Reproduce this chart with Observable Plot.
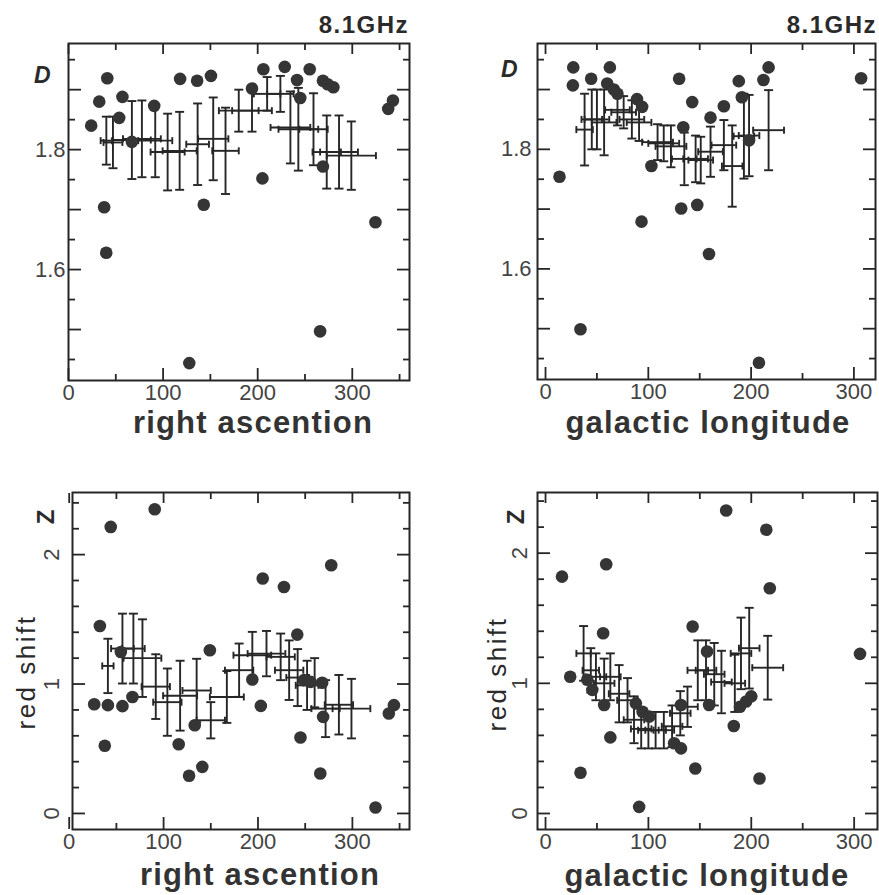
<!DOCTYPE html>
<html><head><meta charset="utf-8">
<script src="https://cdn.jsdelivr.net/npm/d3@7"></script>
<script src="https://cdn.jsdelivr.net/npm/@observablehq/plot@0.6"></script>
<style>
body{margin:0;background:#fff;}
#root{position:relative;width:879px;height:895px;overflow:hidden;font-family:"Liberation Sans",Arial,sans-serif;background:#fff;}
.lbl{position:absolute;white-space:nowrap;color:#2a2a2a;line-height:1;}
</style></head><body><div id="root"></div>
<script>
// ---------- DATA ----------
// Panel 1: D vs right ascension (individual sources)
const raD_ptX = [24, 32.5, 41, 37.7, 39.9, 53.6, 57, 67, 90.6, 118, 136, 150.6, 143, 127.7, 194, 206, 205, 228.6, 241.6, 245, 255, 269, 274, 280, 269, 266, 324.5, 338, 343];
const raD_ptY = [1.84, 1.88, 1.919, 1.704, 1.628, 1.853, 1.888, 1.813, 1.873, 1.918, 1.915, 1.923, 1.708, 1.444, 1.902, 1.934, 1.752, 1.938, 1.916, 1.886, 1.934, 1.915, 1.909, 1.904, 1.772, 1.497, 1.679, 1.868, 1.882];
// Panel 1: binned averages
const raD_binX    = [40, 47, 67, 77.6, 91.7, 104.8, 117.5, 136.5, 153, 166, 180, 194, 210, 224, 234.6, 243, 259, 273, 286, 299];
const raD_binY    = [1.815, 1.812, 1.816, 1.818, 1.815, 1.796, 1.798, 1.809, 1.818, 1.798, 1.865, 1.865, 1.893, 1.893, 1.837, 1.834, 1.834, 1.796, 1.796, 1.79];
const raD_binXErr = [6, 10, 20, 20, 18, 18, 18, 12, 16, 14, 21, 21, 14, 14, 21, 21, 15, 15, 20, 26];
const raD_binYErr = [0.040, 0.043, 0.065, 0.064, 0.061, 0.064, 0.065, 0.068, 0.069, 0.072, 0.035, 0.035, 0.028, 0.03, 0.06, 0.069, 0.06, 0.061, 0.061, 0.057];

// Panel 2: D vs galactic longitude
const glD_ptX = [13.6, 27, 26.6, 34, 44.4, 62.6, 60, 66.5, 70, 89, 94, 103, 93.4, 130, 142.7, 134, 132, 147.6, 159, 160.5, 173.5, 188, 191, 198, 212, 217, 207.6, 307];
const glD_ptY = [1.754, 1.937, 1.907, 1.499, 1.918, 1.937, 1.91, 1.9, 1.893, 1.884, 1.871, 1.772, 1.679, 1.918, 1.879, 1.837, 1.701, 1.707, 1.625, 1.853, 1.872, 1.914, 1.887, 1.815, 1.916, 1.937, 1.443, 1.919];
const glD_binX    = [38, 45, 50, 57, 70, 76, 84, 91, 109, 115, 122, 135, 146, 151, 160.5, 173.5, 181.6, 193, 198, 217];
const glD_binY    = [1.833, 1.85, 1.85, 1.845, 1.866, 1.862, 1.85, 1.845, 1.812, 1.81, 1.805, 1.784, 1.784, 1.782, 1.796, 1.807, 1.772, 1.822, 1.823, 1.832];
const glD_binXErr = [8, 10, 12, 12, 12, 12, 12, 12, 15, 15, 15, 12, 12, 12, 12, 12, 10, 10, 10, 15];
const glD_binYErr = [0.06, 0.05, 0.05, 0.055, 0.026, 0.027, 0.032, 0.031, 0.03, 0.03, 0.035, 0.044, 0.039, 0.039, 0.042, 0.042, 0.068, 0.071, 0.068, 0.067];

// Panel 3: red shift vs right ascension
const raZ_ptX = [26.5, 32.5, 37.7, 44, 41, 54.7, 56.4, 67, 90.6, 116, 127, 133, 141, 149, 194, 203, 205, 227.5, 241.6, 245, 248.7, 255.7, 268, 269, 266, 277.6, 324.5, 338.6, 344];
const raZ_ptY = [0.844, 1.449, 0.523, 2.214, 0.837, 1.248, 0.829, 0.90, 2.35, 0.535, 0.291, 0.682, 0.36, 1.261, 1.035, 0.831, 1.815, 1.75, 1.382, 0.587, 1.03, 1.017, 1.01, 0.746, 0.309, 1.918, 0.046, 0.772, 0.837];
const raZ_binX    = [41, 56.4, 68, 77.6, 91.7, 104, 117.5, 135, 150, 167, 180, 194, 209, 224, 233, 242, 252, 260, 271.6, 285.7, 299];
const raZ_binY    = [1.14, 1.274, 1.274, 1.2, 0.98, 0.86, 0.91, 0.95, 0.72, 0.9, 1.107, 1.223, 1.235, 1.21, 1.107, 1.05, 0.99, 1.01, 0.81, 0.84, 0.81];
const raZ_binXErr = [6, 12, 12, 20, 15, 15, 18, 15, 15, 18, 15, 20, 20, 15, 15, 12, 12, 12, 15, 15, 20];
const raZ_binYErr = [0.21, 0.27, 0.27, 0.3, 0.25, 0.26, 0.27, 0.245, 0.14, 0.2, 0.206, 0.18, 0.175, 0.18, 0.23, 0.22, 0.19, 0.19, 0.22, 0.23, 0.23];

// Panel 4: red shift vs galactic longitude
const glZ_ptX = [16, 24, 34, 59, 56, 40.6, 45.5, 57, 63, 91, 87.8, 94.3, 100.8, 125, 131.7, 131.7, 143, 145.6, 157, 159, 175.6, 183, 189, 195, 200, 214.6, 218, 208, 305.7];
const glZ_ptY = [1.82, 1.05, 0.313, 1.915, 1.385, 1.028, 0.95, 0.833, 0.585, 0.051, 0.846, 0.782, 0.744, 0.54, 0.5, 0.833, 1.436, 0.346, 1.244, 0.833, 2.328, 0.672, 0.82, 0.86, 0.9, 2.18, 1.73, 0.269, 1.226];
const glZ_binX    = [37, 44, 49, 57, 63, 71.5, 79.7, 86, 93, 100, 107, 115, 123, 131, 138, 148, 156, 164, 171, 184, 190, 198, 216];
const glZ_binY    = [1.23, 1.1, 1.05, 1.0, 1.05, 0.92, 0.87, 0.72, 0.65, 0.64, 0.64, 0.64, 0.67, 0.77, 0.82, 1.1, 1.1, 1.07, 1.01, 1.0, 1.23, 1.27, 1.12];
const glZ_binXErr = [7, 8, 10, 10, 10, 10, 10, 10, 10, 10, 10, 10, 10, 10, 10, 10, 10, 10, 10, 10, 10, 10, 15];
const glZ_binYErr = [0.21, 0.17, 0.18, 0.19, 0.18, 0.22, 0.17, 0.18, 0.15, 0.14, 0.14, 0.14, 0.16, 0.17, 0.155, 0.23, 0.23, 0.24, 0.24, 0.22, 0.275, 0.31, 0.245];

// Ticks
const raTicks = [0, 100, 200, 300];
const raMinor = [50, 150, 250, 350];
const glTicks = [0, 100, 200, 300];
const glMinor = [50, 150, 250];
const dMajor = [1.5, 1.6, 1.7, 1.8, 1.9];
const dMinor = [1.45, 1.55, 1.65, 1.75, 1.85, 1.95];
const dLabels = [1.6, 1.8];
const zMajor = [0, 1, 2];
const zMinor = [0.2, 0.4, 0.6, 0.8, 1.2, 1.4, 1.6, 1.8, 2.2, 2.4];
const zLabels = [0, 1, 2];

// ---------- DRAWING ----------
const root = document.getElementById("root");
const ink = "#262626";
const capH = {draw(ctx, size) { const r = Math.sqrt(size / Math.PI); ctx.moveTo(-r, 0); ctx.lineTo(r, 0); }};
const capV = {draw(ctx, size) { const r = Math.sqrt(size / Math.PI); ctx.moveTo(0, -r); ctx.lineTo(0, r); }};
const plain = d => String(d);

function tickAxes(kind, anchor, values, size) {
  const f = kind === "x" ? Plot.axisX : Plot.axisY;
  return f(values, {anchor, tickSize: -size, stroke: ink, strokeWidth: 1.8, fill: "none", label: null, tickFormat: () => ""});
}

function makePanel(c) {
  const pts = c.px.map((x, i) => ({x, y: c.py[i]}));
  const bins = c.bx.map((x, i) => ({x, y: c.by[i], xe: c.bxe[i], ye: c.bye[i]}));
  const eb = {stroke: ink, strokeWidth: 1.9};
  const svg = Plot.plot({
    width: c.w, height: c.h,
    marginLeft: c.ml, marginRight: c.mr, marginTop: c.mt, marginBottom: c.mb,
    x: {domain: c.xd, axis: null},
    y: {domain: c.yd, axis: null},
    style: {fontFamily: "'Liberation Sans', Arial, sans-serif", fontSize: "22px", color: ink, background: "transparent", overflow: "visible"},
    marks: [
      tickAxes("x", "bottom", c.xMajor, 12),
      tickAxes("x", "bottom", c.xMinor, 6),
      tickAxes("x", "top", c.xMajor, 10),
      tickAxes("x", "top", c.xMinor, 6),
      tickAxes("y", "left", c.yMajor, 13),
      tickAxes("y", "left", c.yMinor, 7),
      tickAxes("y", "right", c.yMajor, 13),
      tickAxes("y", "right", c.yMinor, 7),
      Plot.axisX(c.xMajor, {anchor: "bottom", tickSize: 0, tickPadding: 4, fill: "#444", label: null, fontSize: 22, tickFormat: plain}),
      Plot.axisY(c.yLabels, {anchor: "left", tickSize: 0, tickPadding: c.yPad, tickRotate: c.yRot, fill: "#444", label: null, fontSize: 22, tickFormat: plain}),
      Plot.ruleX(bins, {x: "x", y1: d => d.y - d.ye, y2: d => d.y + d.ye, ...eb}),
      Plot.ruleY(bins, {y: "y", x1: d => d.x - d.xe, x2: d => d.x + d.xe, ...eb}),
      Plot.dot(bins, {x: "x", y: d => d.y + d.ye, symbol: capH, r: 4.5, fill: "none", ...eb}),
      Plot.dot(bins, {x: "x", y: d => d.y - d.ye, symbol: capH, r: 4.5, fill: "none", ...eb}),
      Plot.dot(bins, {x: d => d.x - d.xe, y: "y", symbol: capV, r: 3.5, fill: "none", ...eb}),
      Plot.dot(bins, {x: d => d.x + d.xe, y: "y", symbol: capV, r: 3.5, fill: "none", ...eb}),
      Plot.dot(pts, {x: "x", y: "y", r: 6.3, fill: "#353535"}),
      Plot.frame({stroke: ink, strokeWidth: 2})
    ]
  });
  svg.style.position = "absolute";
  svg.style.left = c.left + "px";
  svg.style.top = c.top + "px";
  root.appendChild(svg);
}

makePanel({left: 0, top: 0, w: 440, h: 450, ml: 68, mr: 31, mt: 43, mb: 70,
  xd: [0, 360.5], yd: [1.415, 1.977], xMajor: raTicks, xMinor: raMinor, yMajor: dMajor, yMinor: dMinor,
  yLabels: dLabels, yPad: 3, yRot: 0,
  px: raD_ptX, py: raD_ptY, bx: raD_binX, by: raD_binY, bxe: raD_binXErr, bye: raD_binYErr});
makePanel({left: 440, top: 0, w: 439, h: 450, ml: 97, mr: 4, mt: 43, mb: 71,
  xd: [-7.8, 321], yd: [1.415, 1.977], xMajor: glTicks, xMinor: glMinor, yMajor: dMajor, yMinor: dMinor,
  yLabels: dLabels, yPad: 6, yRot: 0,
  px: glD_ptX, py: glD_ptY, bx: glD_binX, by: glD_binY, bxe: glD_binXErr, bye: glD_binYErr});
makePanel({left: 0, top: 450, w: 440, h: 445, ml: 72, mr: 31, mt: 42, mb: 66,
  xd: [3.5, 360.5], yd: [-0.124, 2.48], xMajor: raTicks, xMinor: raMinor, yMajor: zMajor, yMinor: zMinor,
  yLabels: zLabels, yPad: 14, yRot: -90,
  px: raZ_ptX, py: raZ_ptY, bx: raZ_binX, by: raZ_binY, bxe: raZ_binXErr, bye: raZ_binYErr});
makePanel({left: 440, top: 450, w: 439, h: 445, ml: 97, mr: 2, mt: 42, mb: 66,
  xd: [-7.8, 322.7], yd: [-0.123, 2.466], xMajor: glTicks, xMinor: glMinor, yMajor: zMajor, yMinor: zMinor,
  yLabels: zLabels, yPad: 11, yRot: -90,
  px: glZ_ptX, py: glZ_ptY, bx: glZ_binX, by: glZ_binY, bxe: glZ_binXErr, bye: glZ_binYErr});

// ---------- TEXT ----------
function label(text, css) {
  const d = document.createElement("div");
  d.className = "lbl";
  d.textContent = text;
  Object.assign(d.style, css);
  root.appendChild(d);
}
const freq = {fontSize: "24px", fontWeight: "bold", letterSpacing: "1.5px", top: "13px"};
label("8.1GHz", {...freq, right: "470px"});
label("8.1GHz", {...freq, right: "2px"});
const dStyle = {fontSize: "23px", fontWeight: "bold", fontStyle: "italic"};
label("D", {...dStyle, left: "34px", top: "64px"});
label("D", {...dStyle, left: "501px", top: "58px"});
const zStyle = {fontSize: "24px", fontWeight: "bold", transform: "translate(-50%,-50%) rotate(-90deg)"};
label("Z", {...zStyle, left: "46px", top: "517px"});
label("Z", {...zStyle, left: "516px", top: "517px"});
const rs = {fontSize: "26px", letterSpacing: "2.5px", transform: "translate(-50%,-50%) rotate(-90deg)"};
label("red shift", {...rs, left: "26px", top: "672px"});
label("red shift", {...rs, left: "497px", top: "674px"});
const at = {fontSize: "31px", fontWeight: "bold", letterSpacing: "1.2px", transform: "translateX(-50%)", color: "#333"};
label("right ascention", {...at, left: "253px", top: "407px"});
label("galactic longitude", {...at, left: "708px", top: "407px"});
label("right ascention", {...at, left: "260px", top: "859px"});
label("galactic longitude", {...at, left: "707px", top: "860px"});
</script>
</body></html>
